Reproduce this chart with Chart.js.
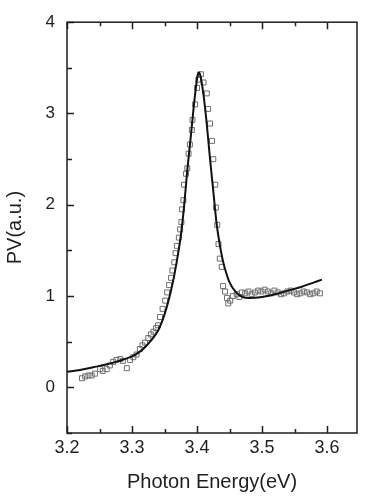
<!DOCTYPE html>
<html>
<head>
<meta charset="utf-8">
<script src="https://cdn.jsdelivr.net/npm/chart.js@4.4.1/dist/chart.umd.min.js"></script>
<style>
  html, body { margin: 0; padding: 0; background: #fff; }
  #wrap { width: 365px; height: 497px; }
</style>
</head>
<body>
<div id="wrap"><canvas id="pv"></canvas></div>
<script>
// measured points (open squares)
var dataX = [3.223, 3.228, 3.233, 3.238, 3.243, 3.251, 3.255, 3.261, 3.266, 3.271, 3.276, 3.282, 3.286, 3.292, 3.297,
  3.302, 3.307, 3.312, 3.316, 3.320, 3.325, 3.329, 3.333, 3.337, 3.340, 3.343, 3.347, 3.351, 3.354, 3.357,
  3.360, 3.362, 3.365, 3.367, 3.369, 3.372, 3.374, 3.376, 3.377, 3.379, 3.380, 3.383, 3.385, 3.387, 3.389,
  3.392, 3.393, 3.397, 3.400, 3.402, 3.406, 3.410, 3.415, 3.417, 3.420, 3.423, 3.425, 3.428, 3.429, 3.431,
  3.433, 3.435, 3.438, 3.440, 3.443, 3.446, 3.448, 3.451, 3.455, 3.461, 3.465, 3.469, 3.474, 3.479, 3.484,
  3.489, 3.494, 3.499, 3.504, 3.509, 3.514, 3.519, 3.524, 3.529, 3.534, 3.539, 3.544, 3.549, 3.554, 3.559,
  3.564, 3.569, 3.574, 3.579, 3.584, 3.589];
var dataY = [0.10, 0.12, 0.13, 0.13, 0.15, 0.20, 0.18, 0.20, 0.24, 0.28, 0.30, 0.31, 0.29, 0.21, 0.30,
  0.33, 0.36, 0.42, 0.46, 0.49, 0.54, 0.58, 0.61, 0.65, 0.68, 0.77, 0.86, 0.95, 1.04, 1.12,
  1.20, 1.28, 1.37, 1.47, 1.55, 1.64, 1.73, 1.81, 1.95, 2.05, 2.22, 2.34, 2.40, 2.56, 2.66,
  2.82, 2.93, 3.10, 3.28, 3.37, 3.43, 3.34, 3.22, 3.05, 2.89, 2.70, 2.50, 2.22, 1.97, 1.78,
  1.57, 1.41, 1.32, 1.11, 1.05, 0.98, 0.92, 0.95, 1.00, 1.02, 0.99, 1.04, 1.03, 1.05, 1.02,
  1.04, 1.06, 1.05, 1.07, 1.05, 1.03, 1.06, 1.04, 1.02, 1.03, 1.05, 1.06, 1.04, 1.02, 1.03,
  1.05, 1.04, 1.02, 1.03, 1.05, 1.03];

// fitted curve (solid line)
var fitX = [3.20, 3.22, 3.24, 3.26, 3.28, 3.30, 3.31, 3.32, 3.33, 3.34, 3.345, 3.35, 3.355, 3.36, 3.365,
  3.37, 3.375, 3.38, 3.385, 3.39, 3.395, 3.40, 3.402, 3.405, 3.41, 3.415, 3.42, 3.425, 3.43, 3.435,
  3.44, 3.445, 3.45, 3.46, 3.47, 3.48, 3.50, 3.52, 3.54, 3.56, 3.58, 3.592];
var fitY = [0.17, 0.19, 0.22, 0.25, 0.29, 0.34, 0.38, 0.44, 0.52, 0.62, 0.70, 0.80, 0.92, 1.06, 1.23,
  1.43, 1.66, 1.98, 2.38, 2.72, 3.08, 3.38, 3.45, 3.42, 3.20, 2.88, 2.50, 2.15, 1.80, 1.56,
  1.38, 1.25, 1.15, 1.04, 0.99, 0.98, 0.99, 1.02, 1.06, 1.10, 1.15, 1.18];

var xMajor = [3.2, 3.3, 3.4, 3.5, 3.6];
var xMinor = [3.25, 3.35, 3.45, 3.55];
var yMajor = [0, 1, 2, 3, 4];
var yMinor = [-0.5, 0.5, 1.5, 2.5, 3.5];

var ink = "#1e1e1e";
var fontName = "'Liberation Sans', Arial, sans-serif";

function pairs(xs, ys) {
  return xs.map(function (x, i) { return { x: x, y: ys[i] }; });
}

// frame box with inward tick marks
var framePlugin = {
  id: "frame",
  afterDatasetsDraw: function (chart) {
    var ctx = chart.ctx;
    var a = chart.chartArea;
    var xs = chart.scales.x;
    var ys = chart.scales.y;
    ctx.save();
    ctx.strokeStyle = ink;
    ctx.lineWidth = 1.5;
    ctx.strokeRect(a.left, a.top, a.right - a.left, a.bottom - a.top);

    function xTick(v, len) {
      var px = Math.round(xs.getPixelForValue(v)) + 0.5;
      ctx.beginPath();
      ctx.moveTo(px, a.bottom);
      ctx.lineTo(px, a.bottom - len);
      ctx.moveTo(px, a.top);
      ctx.lineTo(px, a.top + len);
      ctx.stroke();
    }
    function yTick(v, len) {
      var py = Math.round(ys.getPixelForValue(v)) + 0.5;
      ctx.beginPath();
      ctx.moveTo(a.left, py);
      ctx.lineTo(a.left + len, py);
      ctx.stroke();
    }
    xMajor.forEach(function (v) { xTick(v, 7); });
    xMinor.forEach(function (v) { xTick(v, 4); });
    yMajor.forEach(function (v) { yTick(v, 7); });
    yMinor.forEach(function (v) { yTick(v, 5); });
    ctx.restore();
  }
};

new Chart(document.getElementById("pv"), {
  type: "scatter",
  data: {
    datasets: [
      {
        label: "fit",
        data: pairs(fitX, fitY),
        showLine: true,
        borderColor: "#111111",
        borderWidth: 2,
        pointRadius: 0,
        cubicInterpolationMode: "monotone",
        fill: false
      },
      {
        label: "PV",
        data: pairs(dataX, dataY),
        pointStyle: "rect",
        pointRadius: 3.5,
        borderWidth: 1,
        borderColor: "#6e6e6e",
        backgroundColor: "rgba(0,0,0,0)",
        showLine: false
      }
    ]
  },
  options: {
    responsive: true,
    maintainAspectRatio: false,
    animation: false,
    layout: { padding: { top: 10, right: 8, left: 0, bottom: 0 } },
    plugins: {
      legend: { display: false },
      tooltip: { enabled: false }
    },
    scales: {
      x: {
        type: "linear",
        min: 3.2,
        max: 3.646,
        afterBuildTicks: function (scale) {
          scale.ticks = xMajor.map(function (v) { return { value: v }; });
        },
        afterFit: function (scale) { scale.height = 64; },
        grid: { display: false, drawTicks: false },
        border: { display: false },
        ticks: {
          padding: 4,
          color: ink,
          font: { family: fontName, size: 18 },
          maxRotation: 0,
          callback: function (v) { return v.toFixed(1); }
        },
        title: {
          display: true,
          text: "Photon Energy(eV)",
          color: ink,
          font: { family: fontName, size: 20 },
          padding: { top: 0, bottom: 3 }
        }
      },
      y: {
        type: "linear",
        min: -0.5,
        max: 4,
        afterBuildTicks: function (scale) {
          scale.ticks = yMajor.map(function (v) { return { value: v }; });
        },
        afterFit: function (scale) { scale.width = 67; },
        grid: { display: false, drawTicks: false },
        border: { display: false },
        ticks: {
          padding: 12,
          color: ink,
          font: { family: fontName, size: 17 },
          callback: function (v) { return String(v); }
        },
        title: {
          display: true,
          text: "PV(a.u.)",
          color: ink,
          font: { family: fontName, size: 20 },
          padding: { top: 3, bottom: 0 }
        }
      }
    }
  },
  plugins: [framePlugin]
});
</script>
</body>
</html>
